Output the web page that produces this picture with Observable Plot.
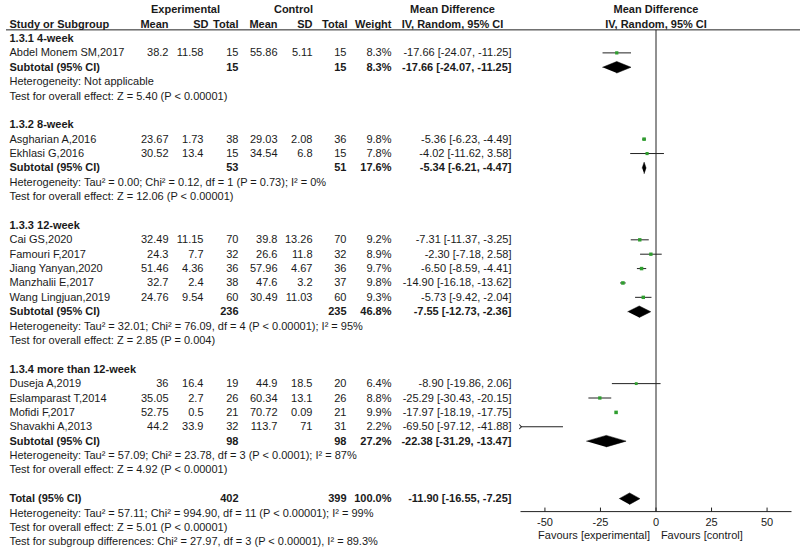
<!DOCTYPE html>
<html><head><meta charset="utf-8">
<script src="https://cdn.jsdelivr.net/npm/d3@7"></script>
<script src="https://cdn.jsdelivr.net/npm/@observablehq/plot@0.6"></script>
<style>body{margin:0;background:#fff} svg{display:block}</style>
</head><body><div id="chart"></div>
<script>
// ---------- data ----------
const groupLabels = ["1.3.1 4-week", "1.3.2 8-week", "1.3.3 12-week", "1.3.4 more than 12-week"];
const studies = ["Abdel Monem SM,2017", "Asgharian A,2016", "Ekhlasi G,2016", "Cai GS,2020", "Famouri F,2017",
  "Jiang Yanyan,2020", "Manzhalii E,2017", "Wang Lingjuan,2019", "Duseja A,2019", "Eslamparast T,2014",
  "Mofidi F,2017", "Shavakhi A,2013"];
const studyGroup = [0, 1, 1, 2, 2, 2, 2, 2, 3, 3, 3, 3];
const expMean = [38.2, 23.67, 30.52, 32.49, 24.3, 51.46, 32.7, 24.76, 36, 35.05, 52.75, 44.2];
const expSD = [11.58, 1.73, 13.4, 11.15, 7.7, 4.36, 2.4, 9.54, 16.4, 2.7, 0.5, 33.9];
const expN = [15, 38, 15, 70, 32, 36, 38, 60, 19, 26, 21, 32];
const ctlMean = [55.86, 29.03, 34.54, 39.8, 26.6, 57.96, 47.6, 30.49, 44.9, 60.34, 70.72, 113.7];
const ctlSD = [5.11, 2.08, 6.8, 13.26, 11.8, 4.67, 3.2, 11.03, 18.5, 13.1, 0.09, 71];
const ctlN = [15, 36, 15, 70, 32, 36, 37, 60, 20, 26, 21, 31];
const weight = [8.3, 9.8, 7.8, 9.2, 8.9, 9.7, 9.8, 9.3, 6.4, 8.8, 9.9, 2.2];
const md = [-17.66, -5.36, -4.02, -7.31, -2.30, -6.50, -14.90, -5.73, -8.90, -25.29, -17.97, -69.50];
const ciLo = [-24.07, -6.23, -11.62, -11.37, -7.18, -8.59, -16.18, -9.42, -19.86, -30.43, -18.19, -97.12];
const ciHi = [-11.25, -4.49, 3.58, -3.25, 2.58, -4.41, -13.62, -2.04, 2.06, -20.15, -17.75, -41.88];

const subExpN = [15, 53, 236, 98];
const subCtlN = [15, 51, 235, 98];
const subWeight = [8.3, 17.6, 46.8, 27.2];
const subMD = [-17.66, -5.34, -7.55, -22.38];
const subLo = [-24.07, -6.21, -12.73, -31.29];
const subHi = [-11.25, -4.47, -2.36, -13.47];
const hetText = [
  "Heterogeneity: Not applicable",
  "Heterogeneity: Tau² = 0.00; Chi² = 0.12, df = 1 (P = 0.73); I² = 0%",
  "Heterogeneity: Tau² = 32.01; Chi² = 76.09, df = 4 (P < 0.00001); I² = 95%",
  "Heterogeneity: Tau² = 57.09; Chi² = 23.78, df = 3 (P < 0.0001); I² = 87%"
];
const testText = [
  "Test for overall effect: Z = 5.40 (P < 0.00001)",
  "Test for overall effect: Z = 12.06 (P < 0.00001)",
  "Test for overall effect: Z = 2.85 (P = 0.004)",
  "Test for overall effect: Z = 4.92 (P < 0.00001)"
];
const total = {label: "Total (95% CI)", expN: 402, ctlN: 399, weight: 100.0, md: -11.90, lo: -16.55, hi: -7.25};
const totalNotes = [
  "Heterogeneity: Tau² = 57.11; Chi² = 994.90, df = 11 (P < 0.00001); I² = 99%",
  "Test for overall effect: Z = 5.01 (P < 0.00001)",
  "Test for subgroup differences: Chi² = 27.97, df = 3 (P < 0.00001), I² = 89.3%"
];
const axisTicks = [-50, -25, 0, 25, 50];
const favourLabels = ["Favours [experimental]", "Favours [control]"];
const XMIN = -61, XMAX = 61;

// ---------- layout rows ----------
const fmtCI = (m, l, h) => `${m.toFixed(2)} [${l.toFixed(2)}, ${h.toFixed(2)}]`;
const cells = [];   // {row, col, text, bold}
const studyRows = [];
const diamonds = [];
let row = 0;
groupLabels.forEach((g, gi) => {
  cells.push({row, col: "name", text: g, bold: true});
  row++;
  studies.forEach((s, i) => {
    if (studyGroup[i] !== gi) return;
    cells.push({row, col: "name", text: s, bold: false});
    cells.push({row, col: "em", text: String(expMean[i]), bold: false});
    cells.push({row, col: "es", text: String(expSD[i]), bold: false});
    cells.push({row, col: "en", text: String(expN[i]), bold: false});
    cells.push({row, col: "cm", text: String(ctlMean[i]), bold: false});
    cells.push({row, col: "cs", text: String(ctlSD[i]), bold: false});
    cells.push({row, col: "cn", text: String(ctlN[i]), bold: false});
    cells.push({row, col: "w", text: weight[i].toFixed(1) + "%", bold: false});
    cells.push({row, col: "ci", text: fmtCI(md[i], ciLo[i], ciHi[i]), bold: false});
    studyRows.push({row, md: md[i], lo: ciLo[i], hi: ciHi[i], weight: weight[i]});
    row++;
  });
  cells.push({row, col: "name", text: "Subtotal (95% CI)", bold: true});
  cells.push({row, col: "en", text: String(subExpN[gi]), bold: true});
  cells.push({row, col: "cn", text: String(subCtlN[gi]), bold: true});
  cells.push({row, col: "w", text: subWeight[gi].toFixed(1) + "%", bold: true});
  cells.push({row, col: "ci", text: fmtCI(subMD[gi], subLo[gi], subHi[gi]), bold: true});
  diamonds.push({id: gi, row, md: subMD[gi], lo: subLo[gi], hi: subHi[gi]});
  row++;
  cells.push({row, col: "name", text: hetText[gi], bold: false}); row++;
  cells.push({row, col: "name", text: testText[gi], bold: false}); row++;
  row++;
});
const totalRow = row;
cells.push({row, col: "name", text: total.label, bold: true});
cells.push({row, col: "en", text: String(total.expN), bold: true});
cells.push({row, col: "cn", text: String(total.ctlN), bold: true});
cells.push({row, col: "w", text: total.weight.toFixed(1) + "%", bold: true});
cells.push({row, col: "ci", text: fmtCI(total.md, total.lo, total.hi), bold: true});
diamonds.push({id: 9, row, md: total.md, lo: total.lo, hi: total.hi});
row++;
totalNotes.forEach(t => { cells.push({row, col: "name", text: t, bold: false}); row++; });

// header
const H1 = -2, H2 = -1;
cells.push({row: H1, col: "expHead", text: "Experimental", bold: true});
cells.push({row: H1, col: "ctlHead", text: "Control", bold: true});
cells.push({row: H1, col: "ciHead", text: "Mean Difference", bold: true});
cells.push({row: H2, col: "name", text: "Study or Subgroup", bold: true});
cells.push({row: H2, col: "em", text: "Mean", bold: true});
cells.push({row: H2, col: "esH", text: "SD", bold: true});
cells.push({row: H2, col: "en", text: "Total", bold: true});
cells.push({row: H2, col: "cm", text: "Mean", bold: true});
cells.push({row: H2, col: "cs", text: "SD", bold: true});
cells.push({row: H2, col: "cnH", text: "Total", bold: true});
cells.push({row: H2, col: "w", text: "Weight", bold: true});
cells.push({row: H2, col: "ciHead", text: "IV, Random, 95% CI", bold: true});
const plotHeads = [{row: H1, text: "Mean Difference"}, {row: H2, text: "IV, Random, 95% CI"}];

// column positions (style)
const cols = {
  name: [9, "start"], em: [168, "end"], es: [203, "end"], esH: [208, "end"], en: [238, "end"],
  cm: [277, "end"], cs: [312, "end"], cn: [346, "end"], cnH: [347, "end"], w: [391, "end"],
  ci: [511, "end"], expHead: [185, "middle"], ctlHead: [293, "middle"], ciHead: [452, "middle"]
};

const AXIS_ROW = totalRow + 0.9;   // axis sits level with the first note under the total
const HEAD_LINE = -0.6;
const DH = 0.4;
const diamondPts = diamonds.flatMap(d => [
  {id: d.id, x: d.lo, y: d.row}, {id: d.id, x: d.md, y: d.row - DH},
  {id: d.id, x: d.hi, y: d.row}, {id: d.id, x: d.md, y: d.row + DH}
]);
const inRange = studyRows.filter(d => d.lo >= XMIN);
const clipped = studyRows.filter(d => d.lo < XMIN);
const zeroLine = [{x: 0, y1: HEAD_LINE, y2: AXIS_ROW}];
const tickSegs = axisTicks.map(t => ({x: t, y1: AXIS_ROW, y2: AXIS_ROW - 0.28}));
const favours = [
  {x: -2.7, y: AXIS_ROW, text: favourLabels[0], anchor: "end"},
  {x: 2.2, y: AXIS_ROW, text: favourLabels[1], anchor: "start"}
];

const textMarks = [];
for (const [key, [dx, anchor]] of Object.entries(cols)) {
  for (const bold of [false, true]) {
    const data = cells.filter(c => c.col === key && c.bold === bold);
    if (!data.length) continue;
    textMarks.push(Plot.text(data, {y: "row", text: "text", frameAnchor: "left", dx, textAnchor: anchor,
      fontWeight: bold ? "bold" : "normal"}));
  }
}

const chart = Plot.plot({
  width: 800, height: 547, margin: 0,
  x: {type: "linear", domain: [XMIN, XMAX], range: [520, 791], axis: null},
  y: {type: "linear", domain: [-2, 35], range: [9.24, 541.3], axis: null},
  r: {type: "sqrt", domain: [0, 10], range: [0, 2.0]},
  style: {fontFamily: "'Liberation Sans', Arial, sans-serif", fontSize: "11px", color: "#1a1a1a", background: "#fff"},
  marks: [
    Plot.ruleY([HEAD_LINE], {y: d => d, insetLeft: 6, stroke: "#222"}),
    Plot.link(zeroLine, {x1: "x", x2: "x", y1: "y1", y2: "y2", stroke: "#222"}),
    Plot.link([{x1: XMIN, x2: XMAX, y: AXIS_ROW}], {x1: "x1", x2: "x2", y1: "y", y2: "y", stroke: "#222"}),
    Plot.link(tickSegs, {x1: "x", x2: "x", y1: "y1", y2: "y2", stroke: "#222"}),
    Plot.text(tickSegs, {x: "x", y: "y1", dy: 11, text: d => String(d.x)}),
    Plot.text(favours.filter(f => f.anchor === "end"), {x: "x", y: "y", dy: 24, text: "text", textAnchor: "end"}),
    Plot.text(favours.filter(f => f.anchor === "start"), {x: "x", y: "y", dy: 24, text: "text", textAnchor: "start"}),
    Plot.text(plotHeads, {x: () => 0, y: "row", text: "text", fontWeight: "bold"}),
    Plot.link(inRange, {x1: "lo", x2: d => Math.min(d.hi, XMAX), y1: "row", y2: "row", stroke: "#222"}),
    Plot.link(clipped, {x1: d => Math.max(d.lo, XMIN), x2: d => Math.min(d.hi, XMAX), y1: "row", y2: "row",
      stroke: "#222", markerStart: "arrow"}),
    Plot.dot(inRange, {x: "md", y: "row", r: "weight", symbol: "square", fill: "#2f9e2f", stroke: "none"}),
    Plot.line(diamondPts, {x: "x", y: "y", z: "id", fill: "#000", stroke: "#000", strokeWidth: 0.5}),
    ...textMarks
  ]
});
document.getElementById("chart").appendChild(chart);
</script>
</body></html>
